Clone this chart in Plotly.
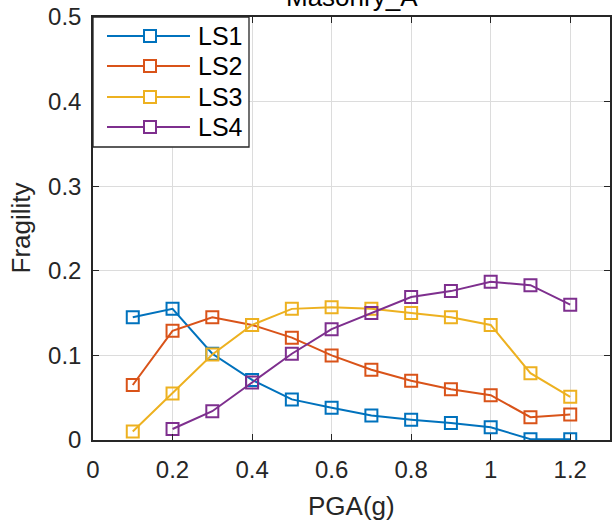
import plotly.graph_objects as go

pga = [0.1, 0.2, 0.3, 0.4, 0.5, 0.6, 0.7, 0.8, 0.9, 1.0, 1.1, 1.2]
ls1 = [0.145, 0.155, 0.102, 0.071, 0.048, 0.038, 0.029, 0.024, 0.020, 0.015, 0.001, 0.001]
ls2 = [0.065, 0.129, 0.145, 0.136, 0.121, 0.100, 0.083, 0.070, 0.060, 0.053, 0.027, 0.030]
ls3 = [0.010, 0.055, 0.101, 0.136, 0.155, 0.157, 0.155, 0.150, 0.145, 0.136, 0.079, 0.051]
pga4 = [0.2, 0.3, 0.4, 0.5, 0.6, 0.7, 0.8, 0.9, 1.0, 1.1, 1.2]
ls4 = [0.013, 0.034, 0.068, 0.102, 0.131, 0.150, 0.169, 0.176, 0.187, 0.183, 0.160]

names = ["LS1", "LS2", "LS3", "LS4"]
colors = ["#0072BD", "#D95319", "#EDB120", "#7E2F8E"]
xs = [pga, pga, pga, pga4]
ys = [ls1, ls2, ls3, ls4]

W, H = 616, 523
ML, MR, MT, MB = 93, 6, 17, 83
PW, PH = W - ML - MR, H - MT - MB

def px(x):  # pixel x -> paper
    return (x - ML) / PW

def py(y):  # pixel y -> paper
    return 1 - (y - MT) / PH

fig = go.Figure()
for n, c, x, y in zip(names, colors, xs, ys):
    fig.add_trace(go.Scatter(
        x=x, y=y, name=n, mode="lines+markers", showlegend=False,
        line=dict(color=c, width=2),
        marker=dict(symbol="square-open", size=12, color=c, line=dict(width=2, color=c)),
    ))

FONT = "Liberation Sans, Arial"
axis_common = dict(
    showline=True, linecolor="#262626", linewidth=1.5, mirror="ticks",
    ticks="inside", ticklen=6, tickcolor="#262626", tickwidth=1.2,
    showgrid=True, gridcolor="#dcdcdc", gridwidth=1.3, zeroline=False,
    tickfont=dict(family=FONT, size=24, color="#262626"),
    automargin=False,
)

# manual MATLAB-style legend
shapes = [dict(type="rect", xref="paper", yref="paper",
               x0=0, x1=px(249), y0=py(147), y1=1,
               fillcolor="white", line=dict(color="#262626", width=1.3), layer="above")]
annotations = []
row_y = [36, 66, 97, 127]
hx, hy = 6 / PW, 6 / PH
for n, c, ry in zip(names, colors, row_y):
    yy = py(ry)
    shapes.append(dict(type="line", xref="paper", yref="paper",
                       x0=px(107), x1=px(190), y0=yy, y1=yy,
                       line=dict(color=c, width=2), layer="above"))
    shapes.append(dict(type="rect", xref="paper", yref="paper",
                       x0=px(150) - hx, x1=px(150) + hx, y0=yy - hy, y1=yy + hy,
                       fillcolor="white", line=dict(color=c, width=2), layer="above"))
    annotations.append(dict(text=n, xref="paper", yref="paper", x=px(196), y=yy,
                            xanchor="left", yanchor="middle", showarrow=False,
                            font=dict(family=FONT, size=25, color="black")))

annotations += [
    dict(text="Masonry_A", xref="paper", yref="paper", x=0.5, y=1,
         xanchor="center", yanchor="bottom", yshift=3, showarrow=False,
         font=dict(family=FONT, size=26, color="black")),
    dict(text="PGA(g)", xref="paper", yref="paper", x=0.5, y=0,
         xanchor="center", yanchor="middle", yshift=-66, showarrow=False,
         font=dict(family=FONT, size=26, color="#262626")),
    dict(text="Fragility", xref="paper", yref="paper", x=0, y=0.5,
         xanchor="center", yanchor="middle", xshift=-73, textangle=-90,
         showarrow=False, font=dict(family=FONT, size=26, color="#262626")),
]

fig.update_layout(
    width=W, height=H,
    margin=dict(l=ML, r=MR, t=MT, b=MB),
    paper_bgcolor="white", plot_bgcolor="white",
    font=dict(family=FONT, color="#262626"),
    xaxis=dict(range=[0, 1.3], tickvals=[0, 0.2, 0.4, 0.6, 0.8, 1.0, 1.2],
               ticktext=["0", "0.2", "0.4", "0.6", "0.8", "1", "1.2"],
               ticklabelstandoff=7, **axis_common),
    yaxis=dict(range=[0, 0.5], tickvals=[0, 0.1, 0.2, 0.3, 0.4, 0.5],
               ticktext=["0", "0.1", "0.2", "0.3", "0.4", "0.5"],
               ticklabelstandoff=5, **axis_common),
    showlegend=False,
    shapes=shapes,
    annotations=annotations,
)

fig.write_html("out.html", config={"displayModeBar": False},
               post_script="document.body.style.margin='0px';")
